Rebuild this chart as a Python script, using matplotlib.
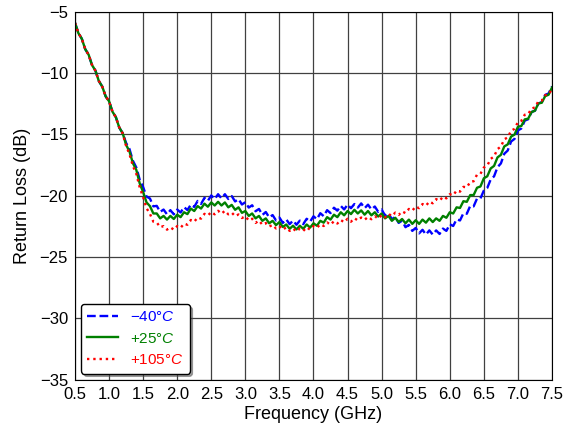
import numpy as np
import matplotlib
matplotlib.use('Agg')
import matplotlib.pyplot as plt

plt.rcParams['font.family'] = ['Liberation Sans', 'DejaVu Sans']
plt.rcParams['mathtext.fontset'] = 'custom'
plt.rcParams['mathtext.rm'] = 'Liberation Sans'
plt.rcParams['mathtext.it'] = 'Liberation Sans:italic'

# frekvensakse (GHz), 0.05 GHz mellom punktene
freq = np.linspace(0.5, 7.5, 141)

# return loss (dB)
rl_m40 = [-5.9, -6.75, -7.2, -8.05, -8.5, -9.35, -9.8, -10.65, -11.1, -11.9,
          -12.3, -13.15, -13.6, -14.45, -14.9, -15.7, -16.2, -17.15, -17.7, -18.7,
          -19.3, -20.07, -20.23, -20.87, -20.83, -21.32, -21.13, -21.52, -21.18, -21.52,
          -21.13, -21.37, -20.93, -21.17, -20.73, -20.92, -20.43, -20.67, -20.18, -20.42,
          -19.98, -20.27, -19.88, -20.22, -19.88, -20.27, -20.03, -20.47, -20.28, -20.72,
          -20.53, -20.97, -20.78, -21.27, -21.08, -21.57, -21.33, -21.77, -21.58, -22.02,
          -21.78, -22.22, -21.93, -22.32, -22.03, -22.37, -22.03, -22.32, -21.88, -22.12,
          -21.68, -21.92, -21.43, -21.67, -21.18, -21.42, -20.98, -21.22, -20.83, -21.12,
          -20.73, -21.02, -20.68, -20.97, -20.63, -21.02, -20.73, -21.12, -20.88, -21.32,
          -21.13, -21.62, -21.43, -21.92, -21.73, -22.22, -22.03, -22.57, -22.38, -22.87,
          -22.63, -23.07, -22.78, -23.17, -22.83, -23.17, -22.83, -23.12, -22.68, -22.87,
          -22.33, -22.47, -21.93, -22.02, -21.43, -21.47, -20.83, -20.87, -20.23, -20.22,
          -19.58, -19.37, -18.68, -18.42, -17.68, -17.37, -16.58, -16.32, -15.58, -15.37,
          -14.68, -14.52, -13.88, -13.77, -13.18, -13.07, -12.48, -12.37, -11.78, -11.67,
          -11.08]

rl_p25 = [-5.9, -6.75, -7.2, -8.05, -8.5, -9.35, -9.8, -10.65, -11.1, -11.9,
          -12.3, -13.15, -13.6, -14.45, -14.9, -15.85, -16.4, -17.35, -17.9, -19.0,
          -19.7, -20.55, -20.85, -21.45, -21.45, -21.85, -21.65, -21.95, -21.65, -21.9,
          -21.55, -21.75, -21.35, -21.5, -21.05, -21.25, -20.85, -21.05, -20.65, -20.9,
          -20.55, -20.8, -20.5, -20.8, -20.55, -20.95, -20.75, -21.15, -20.95, -21.4,
          -21.25, -21.65, -21.45, -21.85, -21.65, -22.05, -21.85, -22.25, -22.05, -22.4,
          -22.15, -22.55, -22.35, -22.7, -22.45, -22.75, -22.45, -22.7, -22.35, -22.6,
          -22.25, -22.45, -22.05, -22.2, -21.75, -21.95, -21.55, -21.75, -21.35, -21.6,
          -21.25, -21.5, -21.15, -21.45, -21.2, -21.55, -21.25, -21.6, -21.35, -21.7,
          -21.45, -21.85, -21.65, -22.05, -21.8, -22.15, -21.9, -22.25, -21.95, -22.3,
          -22.0, -22.3, -21.95, -22.2, -21.85, -22.15, -21.85, -22.05, -21.65, -21.8,
          -21.35, -21.45, -20.95, -21.0, -20.45, -20.5, -19.95, -19.95, -19.35, -19.25,
          -18.58, -18.42, -17.78, -17.57, -16.88, -16.67, -15.98, -15.82, -15.18, -15.02,
          -14.38, -14.32, -13.78, -13.72, -13.18, -13.07, -12.48, -12.42, -11.88, -11.77,
          -11.18]

rl_p105 = [-5.92, -6.73, -7.22, -8.03, -8.52, -9.33, -9.82, -10.63, -11.12, -11.88,
           -12.32, -13.13, -13.62, -14.43, -14.92, -15.93, -16.62, -17.58, -18.22, -19.33,
           -20.12, -21.02, -21.48, -22.12, -22.18, -22.57, -22.48, -22.77, -22.58, -22.77,
           -22.48, -22.62, -22.28, -22.37, -21.98, -22.12, -21.78, -21.87, -21.48, -21.62,
           -21.33, -21.52, -21.23, -21.47, -21.23, -21.52, -21.38, -21.67, -21.53, -21.82,
           -21.68, -22.02, -21.88, -22.22, -22.03, -22.37, -22.23, -22.52, -22.38, -22.67,
           -22.48, -22.77, -22.58, -22.87, -22.68, -22.92, -22.68, -22.87, -22.58, -22.77,
           -22.48, -22.62, -22.33, -22.47, -22.18, -22.37, -22.08, -22.27, -21.98, -22.17,
           -21.88, -22.12, -21.83, -22.02, -21.78, -21.97, -21.73, -21.92, -21.68, -21.87,
           -21.58, -21.77, -21.48, -21.67, -21.38, -21.57, -21.28, -21.42, -21.08, -21.22,
           -20.88, -21.02, -20.68, -20.82, -20.48, -20.62, -20.28, -20.42, -20.08, -20.22,
           -19.88, -19.97, -19.58, -19.67, -19.28, -19.32, -18.88, -18.82, -18.28, -18.22,
           -17.7, -17.55, -17.0, -16.8, -16.2, -16.0, -15.4, -15.25, -14.7, -14.55,
           -14.0, -13.9, -13.4, -13.35, -12.9, -12.8, -12.3, -12.25, -11.8, -11.75,
           -11.3]

labels = [r'$-40°C$', r'$+25°C$', r'$+105°C$']
colors = ['blue', 'green', 'red']
styles = ['--', '-', ':']

fig = plt.figure(figsize=(5.75, 4.29), dpi=100)
ax = fig.add_axes([0.1304, 0.115, 0.8296, 0.8577])

for y, lab, c, ls in zip([rl_m40, rl_p25, rl_p105], labels, colors, styles):
    ax.plot(freq, y, ls, color=c, lw=1.7, label=lab)

ax.set_xlim(0.5, 7.5)
ax.set_ylim(-35, -5)
ax.set_xticks(np.arange(0.5, 7.51, 0.5))
ax.set_yticks(np.arange(-35, -4, 5))
ax.tick_params(direction='in', labelsize=12, length=0, pad=5)
ax.grid(True, color='0.25', lw=0.9)
ax.set_axisbelow(True)
ax.set_xlabel('Frequency (GHz)', fontsize=13, labelpad=3)
ax.set_ylabel('Return Loss (dB)', fontsize=13, labelpad=6)

leg = ax.legend(loc='lower left', fancybox=True, shadow=True, fontsize=11,
                borderaxespad=0.4, edgecolor='black', framealpha=1)
for t, c in zip(leg.get_texts(), colors):
    t.set_color(c)

fig.savefig('out.png', dpi=100)
